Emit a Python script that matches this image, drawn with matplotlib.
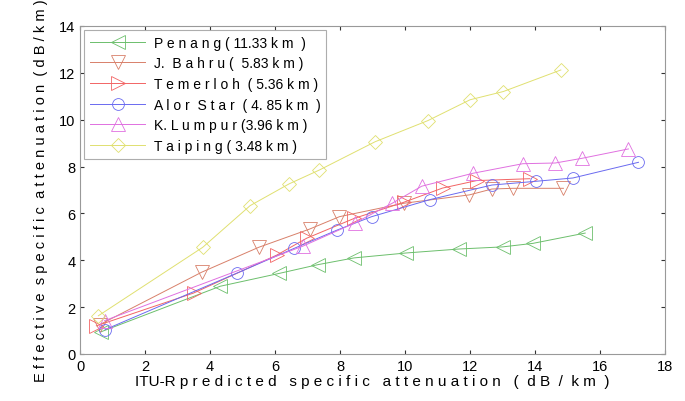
import numpy as np
import matplotlib.pyplot as plt

plt.rcParams['font.family'] = ['Liberation Sans', 'DejaVu Sans']

# data (x: ITU-R predicted, y: effective)
penang_x = [0.65, 4.31, 6.13, 7.31, 8.43, 10.03, 11.67, 13.0, 13.93, 15.54]
penang_y = [0.95, 2.89, 3.44, 3.81, 4.10, 4.31, 4.48, 4.57, 4.72, 5.16]

jbahru_x = [0.6, 3.74, 5.49, 7.06, 7.98, 9.95, 11.98, 12.67, 13.31, 14.87]
jbahru_y = [1.25, 3.49, 4.55, 5.33, 5.86, 6.43, 6.79, 7.04, 7.07, 7.07]

temerloh_x = [0.5, 3.49, 6.05, 6.97, 8.44, 9.95, 11.15, 12.2, 13.84]
temerloh_y = [1.2, 2.6, 4.22, 4.94, 5.79, 6.47, 7.08, 7.4, 7.48]

alor_x = [0.77, 4.84, 6.59, 7.91, 8.97, 10.77, 12.67, 14.03, 15.16, 17.18]
alor_y = [1.04, 3.46, 4.51, 5.29, 5.86, 6.59, 7.21, 7.37, 7.51, 8.18]

kl_x = [0.75, 6.85, 8.45, 9.6, 10.51, 12.08, 13.62, 14.62, 15.44, 16.87]
kl_y = [1.42, 4.6, 5.59, 6.43, 7.16, 7.71, 8.12, 8.15, 8.35, 8.75]

taiping_x = [0.56, 3.77, 5.23, 6.43, 7.36, 9.08, 10.7, 12.0, 13.02, 14.79]
taiping_y = [1.63, 4.55, 6.33, 7.26, 7.85, 9.06, 9.96, 10.85, 11.2, 12.12]

labels = ["P e n a n g ( 11.33 k m  )",
          "J.  B a h r u (  5.83 k m )",
          "T e m e r l o h  ( 5.36 k m )",
          "A l o r  S t a r  ( 4. 85 k m  )",
          "K. L u m p u r (3.96 k m )",
          "T a i p i n g ( 3.48 k m )"]

fig = plt.figure(figsize=(6.85, 4.02), dpi=100)
ax = fig.add_axes([0.117, 0.117, 0.854, 0.816])

ax.plot(penang_x, penang_y, color='#6cbf6c', marker='<', mfc='none', ms=9.5, lw=0.7, mew=0.6, label=labels[0])
ax.plot(jbahru_x, jbahru_y, color='#d8806a', marker='v', mfc='none', ms=9.5, lw=0.7, mew=0.6, label=labels[1])
ax.plot(temerloh_x, temerloh_y, color='#f26464', marker='>', mfc='none', ms=9.5, lw=0.7, mew=0.6, label=labels[2])
ax.plot(alor_x, alor_y, color='#6a6af0', marker='o', mfc='none', ms=8.5, lw=0.7, mew=0.6, label=labels[3])
ax.plot(kl_x, kl_y, color='#e070e0', marker='^', mfc='none', ms=9.5, lw=0.7, mew=0.6, label=labels[4])
ax.plot(taiping_x, taiping_y, color='#e0e070', marker='D', mfc='none', ms=7.5, lw=0.7, mew=0.6, label=labels[5])

ax.set_xlim(0, 18)
ax.set_ylim(0, 14)
ax.set_xticks(np.arange(0, 19, 2))
ax.set_yticks(np.arange(0, 15, 2))
ax.tick_params(direction='in', length=3, top=True, right=True, labelsize=10.5, color='#333333')
for s in ax.spines.values():
    s.set_color('#999999')
    s.set_linewidth(0.8)

ax.set_xlabel("ITU-R p r e d i c t e d   s p e c i f i c   a t t e n u a t i o n   (  d B  /  k m  )",
              fontsize=11, labelpad=1)
ax.set_ylabel("E f f e c t i v e  s p e c i f i c  a t t e n u a t i o n  ( d B / k m )",
              fontsize=10.5, labelpad=8)

leg = ax.legend(loc='upper left', fontsize=10, handlelength=4.0, frameon=True, fancybox=False,
                edgecolor='#999999', borderaxespad=0.3, labelspacing=0.48, handletextpad=0.6)
leg.get_frame().set_linewidth(0.8)

fig.savefig("out.png", dpi=100)
